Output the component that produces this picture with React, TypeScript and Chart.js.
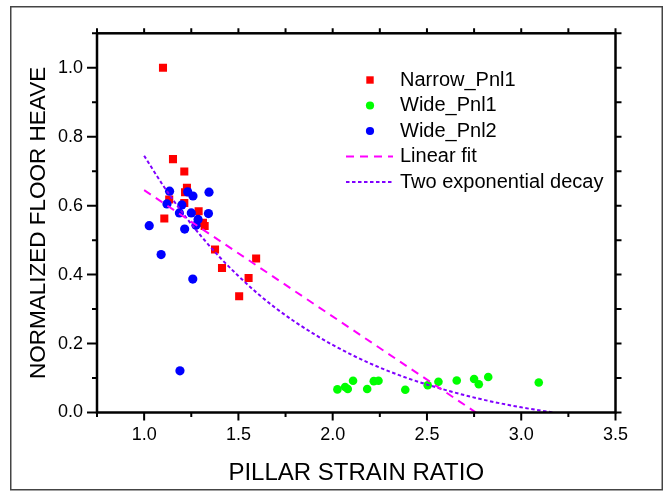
import React, { useEffect, useRef } from "react";
import { Chart, registerables } from "chart.js";

Chart.register(...registerables);

// ---- data ----
const narrowX = [1.10, 1.153, 1.213, 1.227, 1.217, 1.133, 1.213, 1.289, 1.107, 1.312, 1.321, 1.376, 1.413, 1.594, 1.554, 1.504];
const narrowY = [1.0, 0.735, 0.699, 0.652, 0.639, 0.618, 0.608, 0.584, 0.563, 0.55, 0.541, 0.473, 0.419, 0.447, 0.39, 0.337];

const wide1X = [2.025, 2.066, 2.08, 2.108, 2.183, 2.218, 2.243, 2.385, 2.504, 2.561, 2.658, 2.75, 2.775, 2.825, 3.093];
const wide1Y = [0.067, 0.074, 0.068, 0.092, 0.068, 0.091, 0.092, 0.066, 0.079, 0.089, 0.093, 0.097, 0.082, 0.103, 0.087];

const wide2X = [1.135, 1.121, 1.231, 1.259, 1.344, 1.2, 1.187, 1.25, 1.341, 1.286, 1.027, 1.215, 1.275, 1.09, 1.258, 1.19];
const wide2Y = [0.642, 0.605, 0.64, 0.628, 0.639, 0.602, 0.579, 0.579, 0.577, 0.56, 0.542, 0.532, 0.543, 0.458, 0.387, 0.121];

const linFitX = [1.0, 2.76];
const linFitY = [0.645, 0.0];

const expFitX = [1.0, 1.1, 1.2, 1.3, 1.4, 1.5, 1.6, 1.7, 1.8, 1.9, 2.0, 2.2, 2.4, 2.6, 2.8, 3.0, 3.17];
const expFitY = [0.745, 0.659, 0.582, 0.513, 0.451, 0.396, 0.346, 0.302, 0.263, 0.228, 0.196, 0.142, 0.099, 0.065, 0.037, 0.015, 0.0];

const xTickValues = [1.0, 1.5, 2.0, 2.5, 3.0, 3.5];
const xMinorValues = [0.75, 1.25, 1.75, 2.25, 2.75, 3.25];
const yTickValues = [0.0, 0.2, 0.4, 0.6, 0.8, 1.0];
const yMinorValues = [0.1, 0.3, 0.5, 0.7, 0.9, 1.1];

const xTitle = "PILLAR STRAIN RATIO";
const yTitle = "NORMALIZED FLOOR HEAVE";

const FONT = "'Liberation Sans', Arial, sans-serif";

const zip = (xs: number[], ys: number[]) => xs.map((x, i) => ({ x, y: ys[i] }));

const decorPlugin = {
  id: "decor",
  beforeDraw(chart: any) {
    const ctx = chart.ctx;
    ctx.save();
    ctx.fillStyle = "#ffffff";
    ctx.fillRect(0, 0, chart.width, chart.height);
    ctx.strokeStyle = "#444444";
    ctx.lineWidth = 1.5;
    ctx.strokeRect(10.75, 6.75, 651.5, 483);
    ctx.restore();
  },
  afterDraw(chart: any) {
    const ctx = chart.ctx;
    const { left, right, top, bottom } = chart.chartArea;
    const xs = chart.scales.x;
    const ys = chart.scales.y;
    ctx.save();
    ctx.strokeStyle = "#000";
    ctx.lineCap = "butt";
    // ticks
    ctx.lineWidth = 2;
    ctx.beginPath();
    xTickValues.forEach((v) => {
      const p = xs.getPixelForValue(v);
      ctx.moveTo(p, bottom); ctx.lineTo(p, bottom + 8);
      ctx.moveTo(p, top); ctx.lineTo(p, top - 5);
    });
    xMinorValues.forEach((v) => {
      const p = xs.getPixelForValue(v);
      ctx.moveTo(p, bottom); ctx.lineTo(p, bottom + 4.5);
      ctx.moveTo(p, top); ctx.lineTo(p, top - 5);
    });
    yTickValues.forEach((v) => {
      const p = ys.getPixelForValue(v);
      ctx.moveTo(left, p); ctx.lineTo(left - 10, p);
      ctx.moveTo(right, p); ctx.lineTo(right + 6, p);
    });
    yMinorValues.forEach((v) => {
      const p = ys.getPixelForValue(v);
      ctx.moveTo(left, p); ctx.lineTo(left - 5, p);
      ctx.moveTo(right, p); ctx.lineTo(right + 6, p);
    });
    ctx.stroke();
    // axis box
    ctx.lineWidth = 2.5;
    ctx.strokeRect(left, top, right - left, bottom - top);

    // axis titles
    ctx.fillStyle = "#000";
    ctx.textAlign = "center";
    ctx.textBaseline = "alphabetic";
    ctx.font = `24px ${FONT}`;
    ctx.fillText(xTitle, (left + right) / 2, 479.5);
    ctx.save();
    ctx.translate(45, (top + bottom) / 2);
    ctx.rotate(-Math.PI / 2);
    ctx.font = `22.5px ${FONT}`;
    ctx.fillText(yTitle, 0, 0);
    ctx.restore();

    // legend
    const rowY0 = 80;
    const rowStep = 25.5;
    const markX = 370;
    const textX = 400;
    ctx.font = `20px ${FONT}`;
    ctx.textAlign = "left";
    ctx.textBaseline = "middle";
    chart.data.datasets.forEach((ds: any, i: number) => {
      const y = rowY0 + i * rowStep;
      if (ds.showLine) {
        ctx.save();
        ctx.strokeStyle = ds.borderColor;
        ctx.lineWidth = ds.borderWidth;
        ctx.setLineDash(ds.borderDash || []);
        ctx.beginPath();
        ctx.moveTo(346, y);
        ctx.lineTo(393, y);
        ctx.stroke();
        ctx.restore();
      } else {
        ctx.fillStyle = ds.backgroundColor;
        ctx.beginPath();
        if (ds.pointStyle === "rect") {
          ctx.rect(markX - 3.7, y - 3.7, 7.4, 7.4);
        } else {
          ctx.arc(markX, y, 4.1, 0, Math.PI * 2);
        }
        ctx.fill();
      }
      ctx.fillStyle = "#000";
      ctx.fillText(ds.label, textX, y);
    });
    ctx.restore();
  },
};

export default function App() {
  const ref = useRef<HTMLCanvasElement | null>(null);

  useEffect(() => {
    if (!ref.current) return;
    const chart = new Chart(ref.current, {
      type: "scatter",
      data: {
        datasets: [
          {
            label: "Narrow_Pnl1",
            data: zip(narrowX, narrowY),
            pointStyle: "rect",
            pointRadius: 5.7,
            pointHoverRadius: 5.7,
            backgroundColor: "#ff0000",
            borderColor: "#ff0000",
            borderWidth: 0,
            order: 3,
          },
          {
            label: "Wide_Pnl1",
            data: zip(wide1X, wide1Y),
            pointStyle: "circle",
            pointRadius: 4.3,
            backgroundColor: "#00ff00",
            borderColor: "#00ff00",
            borderWidth: 0,
            order: 2,
          },
          {
            label: "Wide_Pnl2",
            data: zip(wide2X, wide2Y),
            pointStyle: "circle",
            pointRadius: 4.6,
            backgroundColor: "#0000ff",
            borderColor: "#0000ff",
            borderWidth: 0,
            order: 1,
          },
          {
            label: "Linear fit",
            data: zip(linFitX, linFitY),
            showLine: true,
            pointRadius: 0,
            borderColor: "#ff00ff",
            backgroundColor: "#ff00ff",
            borderWidth: 2,
            borderDash: [8, 6],
            order: 0,
          },
          {
            label: "Two exponential decay",
            data: zip(expFitX, expFitY),
            showLine: true,
            pointRadius: 0,
            borderColor: "#8000ff",
            backgroundColor: "#8000ff",
            borderWidth: 2,
            borderDash: [3.5, 2.5],
            cubicInterpolationMode: "monotone",
            order: 0,
          },
        ] as any,
      },
      options: {
        animation: false,
        responsive: false,
        devicePixelRatio: 1,
        layout: { padding: { left: 0, top: 33.3, right: 51.5, bottom: 0 } },
        plugins: {
          legend: { display: false },
          tooltip: { enabled: false },
          title: { display: false },
        },
        scales: {
          x: {
            type: "linear",
            min: 0.75,
            max: 3.5,
            grid: { display: false, drawTicks: false },
            border: { display: false },
            afterFit: (s: any) => { s.height = 83.5; },
            afterBuildTicks: (s: any) => { s.ticks = xTickValues.map((v) => ({ value: v })); },
            ticks: {
              color: "#000",
              padding: 12,
              font: { family: FONT, size: 18 },
              callback: (v: any) => Number(v).toFixed(1),
              maxRotation: 0,
              autoSkip: false,
            },
          },
          y: {
            type: "linear",
            min: 0,
            max: 1.1,
            grid: { display: false, drawTicks: false },
            border: { display: false },
            afterFit: (s: any) => { s.width = 97; },
            afterBuildTicks: (s: any) => { s.ticks = yTickValues.map((v) => ({ value: v })); },
            ticks: {
              color: "#000",
              padding: 14,
              font: { family: FONT, size: 18 },
              callback: (v: any) => Number(v).toFixed(1),
              autoSkip: false,
            },
          },
        },
      } as any,
      plugins: [decorPlugin],
    });
    return () => chart.destroy();
  }, []);

  return (
    <div style={{ position: "fixed", left: 0, top: 0, width: 667, height: 496, background: "#fff" }}>
      <canvas ref={ref} width={667} height={496} style={{ display: "block", width: 667, height: 496 }} />
    </div>
  );
}
